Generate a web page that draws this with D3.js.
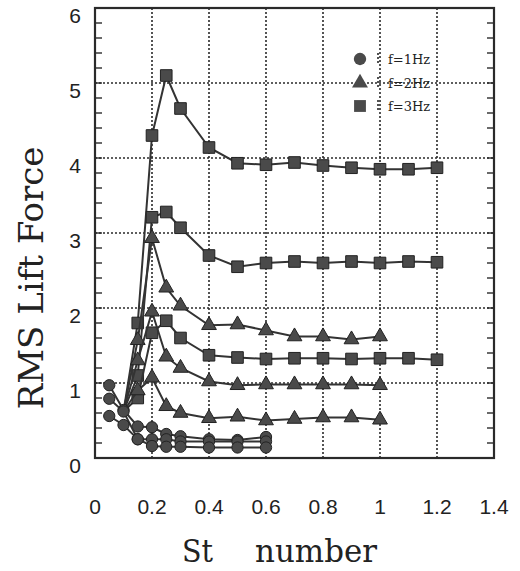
<!DOCTYPE html>
<html>
<head>
<meta charset="utf-8">
<script src="https://cdn.jsdelivr.net/npm/d3@7"></script>
<style>
  body { margin: 0; background: #fff; }
  svg { display: block; }
</style>
</head>
<body>
<svg id="chart" width="520" height="571"></svg>
<script>
// St values for each family of curves
const stCircle = [0.05, 0.1, 0.15, 0.2, 0.25, 0.3, 0.4, 0.5, 0.6]
const stTri = [0.1, 0.15, 0.2, 0.25, 0.3, 0.4, 0.5, 0.6, 0.7, 0.8, 0.9, 1.0]
const stSq = [0.1, 0.15, 0.2, 0.25, 0.3, 0.4, 0.5, 0.6, 0.7, 0.8, 0.9, 1.0, 1.1, 1.2]

// f=1Hz (circles)
const c1 = [0.97, 0.64, 0.42, 0.41, 0.32, 0.29, 0.25, 0.24, 0.28]
const c2 = [0.79, 0.62, 0.25, 0.25, 0.25, 0.22, 0.22, 0.22, 0.22]
const c3 = [0.56, 0.44, 0.25, 0.16, 0.15, 0.15, 0.14, 0.14, 0.14]
// f=2Hz (triangles)
const t1 = [0.62, 1.57, 2.93, 2.27, 2.03, 1.77, 1.78, 1.7, 1.62, 1.62, 1.58, 1.62]
const t2 = [0.62, 1.3, 1.95, 1.35, 1.2, 1.02, 0.97, 0.98, 0.98, 0.98, 0.98, 0.97]
const t3 = [0.62, 0.9, 1.07, 0.69, 0.6, 0.53, 0.55, 0.5, 0.52, 0.54, 0.54, 0.51]
// f=3Hz (squares)
const s1 = [0.62, 1.8, 4.3, 5.1, 4.66, 4.14, 3.93, 3.91, 3.94, 3.9, 3.87, 3.85, 3.85, 3.87]
const s2 = [0.62, 1.1, 3.21, 3.28, 3.07, 2.7, 2.55, 2.6, 2.62, 2.6, 2.62, 2.6, 2.62, 2.61]
const s3 = [0.62, 0.8, 1.67, 1.83, 1.6, 1.37, 1.34, 1.32, 1.33, 1.33, 1.32, 1.33, 1.33, 1.31]

const xTicks = [0, 0.2, 0.4, 0.6, 0.8, 1, 1.2, 1.4]
const yTicks = [0, 1, 2, 3, 4, 5, 6]
const legendLabels = ["f=1Hz", "f=2Hz", "f=3Hz"]

const svg = d3.select("#chart")
const x = d3.scaleLinear().domain([0, 1.4]).range([95, 494])
const y = d3.scaleLinear().domain([0, 6]).range([458, 8])
const ink = "#2a2a2a"

// dotted grid
svg.append("g").selectAll("line").data(xTicks.slice(1, -1)).enter().append("line")
  .attr("x1", d => x(d)).attr("x2", d => x(d)).attr("y1", y(0)).attr("y2", y(6))
  .attr("stroke", ink).attr("stroke-width", 1.6).attr("stroke-dasharray", "2,2")
svg.append("g").selectAll("line").data(yTicks.slice(1, -1)).enter().append("line")
  .attr("x1", x(0)).attr("x2", x(1.4)).attr("y1", d => y(d)).attr("y2", d => y(d))
  .attr("stroke", ink).attr("stroke-width", 1.6).attr("stroke-dasharray", "2,2")

// minor ticks, inward on left and right
const minor = d3.range(0, 6.01, 0.2)
svg.append("g").selectAll("line").data(minor).enter().append("line")
  .attr("x1", x(0)).attr("x2", x(0) + 7).attr("y1", d => y(d)).attr("y2", d => y(d))
  .attr("stroke", ink).attr("stroke-width", 1.4)
svg.append("g").selectAll("line").data(minor).enter().append("line")
  .attr("x1", x(1.4)).attr("x2", x(1.4) - 7).attr("y1", d => y(d)).attr("y2", d => y(d))
  .attr("stroke", ink).attr("stroke-width", 1.4)

// frame
svg.append("rect").attr("x", x(0)).attr("y", y(6))
  .attr("width", x(1.4) - x(0)).attr("height", y(0) - y(6))
  .attr("fill", "none").attr("stroke", ink).attr("stroke-width", 2.2)

// tick labels
svg.append("g").selectAll("text").data(yTicks).enter().append("text")
  .attr("x", 81).attr("y", d => y(d) + 15)
  .attr("text-anchor", "end").attr("font-family", "Liberation Sans, Arial, sans-serif")
  .attr("font-size", 21).attr("fill", "#222").text(d => d)
svg.append("g").selectAll("text").data(xTicks).enter().append("text")
  .attr("x", d => x(d)).attr("y", 514)
  .attr("text-anchor", "middle").attr("font-family", "Liberation Sans, Arial, sans-serif")
  .attr("font-size", 21).attr("fill", "#222").text(d => d)

// axis titles
svg.append("text").attr("transform", "translate(43,278) rotate(-90)")
  .attr("text-anchor", "middle").attr("font-family", "DejaVu Serif, serif")
  .attr("font-size", 34).attr("fill", "#222")
  .attr("textLength", 263).attr("lengthAdjust", "spacingAndGlyphs")
  .text("RMS Lift Force")
svg.append("text").attr("x", 182).attr("y", 562)
  .attr("font-family", "DejaVu Serif, serif").attr("font-size", 31).attr("fill", "#222")
  .attr("textLength", 31).attr("lengthAdjust", "spacingAndGlyphs").text("St")
svg.append("text").attr("x", 255).attr("y", 562)
  .attr("font-family", "DejaVu Serif, serif").attr("font-size", 31).attr("fill", "#222")
  .attr("textLength", 122).attr("lengthAdjust", "spacingAndGlyphs").text("number")

const line = d3.line().x(d => x(d[0])).y(d => y(d[1]))
const sym = {
  circle: d3.symbol().type(d3.symbolCircle).size(100),
  tri: d3.symbol().type(d3.symbolTriangle).size(95),
  sq: d3.symbol().type(d3.symbolSquare).size(135)
}

function series(xs, ys, kind, skipFirst) {
  let pts = xs.map((v, i) => [v, ys[i]])
  let g = svg.append("g")
  g.append("path").datum(pts).attr("d", line)
    .attr("fill", "none").attr("stroke", "#333").attr("stroke-width", 2)
  g.selectAll("path.m").data(skipFirst ? pts.slice(1) : pts).enter().append("path")
    .attr("class", "m")
    .attr("transform", d => `translate(${x(d[0])},${y(d[1])})`)
    .attr("d", sym[kind]())
    .attr("fill", "#4a4a4a").attr("stroke", "#222").attr("stroke-width", 1)
}

[s1, s2, s3].forEach(s => series(stSq, s, "sq", true));
[t1, t2, t3].forEach(s => series(stTri, s, "tri", true));
[c1, c2, c3].forEach(s => series(stCircle, s, "circle", false));

// legend
const legKinds = ["circle", "tri", "sq"]
const legY = [59, 83, 106]
const leg = svg.append("g")
legKinds.forEach((k, i) => {
  leg.append("path").attr("transform", `translate(360,${legY[i]})`)
    .attr("d", d3.symbol().type(k == "circle" ? d3.symbolCircle : k == "tri" ? d3.symbolTriangle : d3.symbolSquare)
      .size(k == "circle" ? 120 : k == "tri" ? 110 : 140)())
    .attr("fill", "#4a4a4a")
  leg.append("line").attr("x1", 378).attr("x2", 378)
    .attr("y1", legY[i] - 6).attr("y2", legY[i] + 6)
    .attr("stroke", ink).attr("stroke-width", 1.6).attr("stroke-dasharray", "2,2")
  leg.append("text").attr("x", 388).attr("y", legY[i] + 5)
    .attr("font-family", "DejaVu Serif, serif").attr("font-size", 13).attr("fill", "#222")
    .text(legendLabels[i])
})
</script>
</body>
</html>
